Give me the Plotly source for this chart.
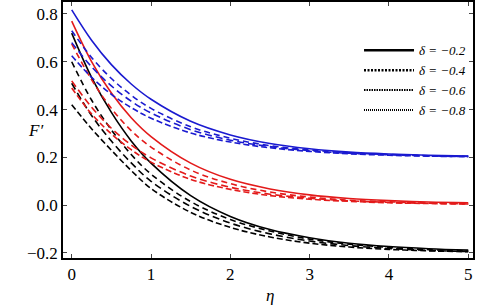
import plotly.graph_objects as go

eta = [0, 0.25, 0.5, 0.75, 1, 1.5, 2, 2.5, 3, 3.5, 4, 4.5, 5]

delta_labels = ["δ = −0.2", "δ = −0.4", "δ = −0.6", "δ = −0.8"]

blue_series = [
    [0.817, 0.690, 0.588, 0.507, 0.443, 0.351, 0.294, 0.258, 0.236, 0.222, 0.214, 0.209, 0.205],
    [0.730, 0.618, 0.530, 0.460, 0.405, 0.328, 0.280, 0.249, 0.231, 0.219, 0.212, 0.207, 0.204],
    [0.680, 0.579, 0.499, 0.435, 0.386, 0.316, 0.272, 0.245, 0.228, 0.217, 0.211, 0.206, 0.203],
    [0.625, 0.535, 0.464, 0.408, 0.364, 0.302, 0.264, 0.240, 0.225, 0.215, 0.209, 0.205, 0.203],
]
red_series = [
    [0.770, 0.601, 0.469, 0.366, 0.287, 0.176, 0.108, 0.068, 0.043, 0.028, 0.019, 0.013, 0.010],
    [0.675, 0.525, 0.405, 0.312, 0.243, 0.147, 0.090, 0.055, 0.034, 0.021, 0.014, 0.009, 0.006],
    [0.520, 0.410, 0.322, 0.252, 0.198, 0.122, 0.075, 0.046, 0.029, 0.018, 0.012, 0.008, 0.005],
    [0.490, 0.382, 0.298, 0.232, 0.180, 0.108, 0.066, 0.040, 0.025, 0.016, 0.010, 0.007, 0.005],
]
black_series = [
    [0.720, 0.535, 0.388, 0.269, 0.176, 0.040, -0.047, -0.102, -0.136, -0.159, -0.173, -0.182, -0.188],
    [0.600, 0.440, 0.315, 0.212, 0.130, 0.015, -0.060, -0.108, -0.142, -0.163, -0.177, -0.186, -0.191],
    [0.510, 0.375, 0.268, 0.177, 0.100, -0.005, -0.075, -0.120, -0.150, -0.169, -0.181, -0.189, -0.194],
    [0.420, 0.320, 0.230, 0.145, 0.070, -0.030, -0.093, -0.133, -0.159, -0.175, -0.185, -0.191, -0.195],
]

x_ticks = [0, 1, 2, 3, 4, 5]
y_ticks = [-0.2, 0.0, 0.2, 0.4, 0.6, 0.8]
y_tick_text = ["−0.2", "0.0", "0.2", "0.4", "0.6", "0.8"]

curve_dashes = ["solid", "6px,4px", "7px,4px", "6px,3px"]
legend_dashes = ["solid", "2px,1.5px", "1.5px,1px", "1px,1px"]
legend_widths = [2.5, 2.5, 2.0, 2.0]
colors = {"blue": "#1a1ad0", "red": "#e31a1a", "black": "#000000"}

fig = go.Figure()
for cname, group in [("black", black_series), ("red", red_series), ("blue", blue_series)]:
    for i, ys in enumerate(group):
        fig.add_trace(go.Scatter(
            x=eta, y=ys, mode="lines", line_shape="spline",
            line=dict(color=colors[cname], width=1.6, dash=curve_dashes[i]),
            showlegend=False, hoverinfo="skip"))

for i, lab in enumerate(delta_labels):
    fig.add_trace(go.Scatter(
        x=[None], y=[None], mode="lines", name="<i>" + lab + "</i>",
        line=dict(color="black", width=legend_widths[i], dash=legend_dashes[i])))

serif = "Liberation Serif, Times New Roman, serif"
fig.update_layout(
    width=480, height=308,
    margin=dict(l=63, r=7, t=2, b=50, autoexpand=False),
    paper_bgcolor="white", plot_bgcolor="white",
    font=dict(family=serif, size=17, color="black"),
    showlegend=True,
    legend=dict(x=0.722, y=0.87, xanchor="left", yanchor="top",
                bgcolor="rgba(0,0,0,0)", borderwidth=0,
                font=dict(family=serif, size=13), itemwidth=50,
                tracegroupgap=0),
    xaxis=dict(range=[-0.11, 5.06], tickvals=x_ticks, ticks="inside", ticklen=4,
               showline=True, linecolor="black", linewidth=1.5, mirror="ticks",
               showgrid=False, zeroline=False, automargin=False,
               tickfont=dict(family=serif, size=17)),
    yaxis=dict(range=[-0.221, 0.85], tickvals=y_ticks, ticktext=y_tick_text,
               ticks="inside", ticklen=4,
               showline=True, linecolor="black", linewidth=1.5, mirror="ticks",
               showgrid=False, zeroline=False, automargin=False,
               tickfont=dict(family=serif, size=17)),
    annotations=[
        dict(text="<i>F′</i>", xref="paper", yref="paper", x=-0.068, y=0.5,
             xanchor="center", yanchor="middle",
             showarrow=False, font=dict(family=serif, size=17)),
        dict(text="<i>η</i>", xref="paper", yref="paper", x=0.505, y=-0.148,
             xanchor="center", yanchor="middle",
             showarrow=False, font=dict(family=serif, size=17)),
    ],
)

fig.write_html("out.html", config={"displayModeBar": False},
               post_script="document.body.style.margin='0';")
